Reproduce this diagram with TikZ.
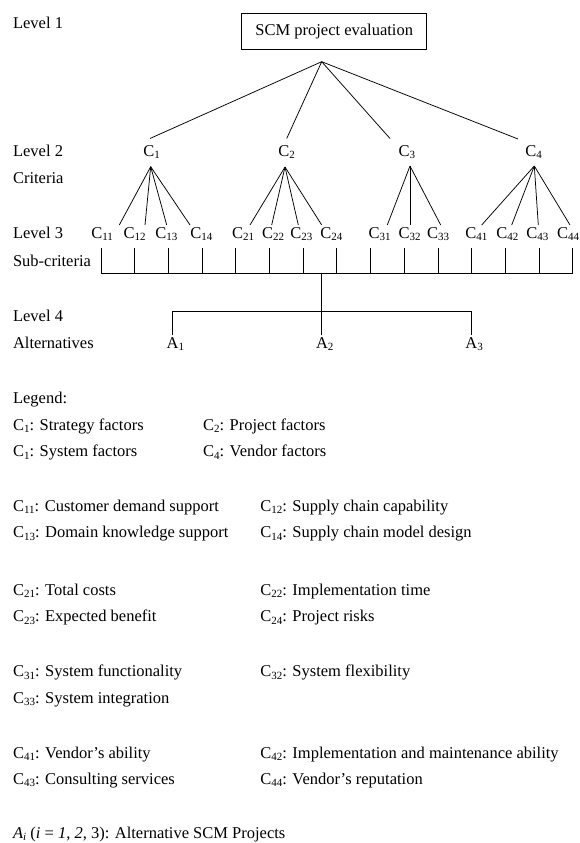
\documentclass[tikz,border=0pt]{standalone}
\usepackage{fontspec}
\setmainfont{Liberation Serif}
\newcommand\sbs[1]{\raisebox{-2.6pt}{\fontsize{11}{11}\selectfont #1}}
\begin{document}
\begin{tikzpicture}[x=1pt,y=-1pt,line width=0.75pt,
  every node/.style={font=\fontsize{16.5}{19}\selectfont,inner sep=0pt},
  lbl/.style={anchor=base west},
  rootbox/.style={draw,minimum width=185pt,minimum height=36pt},
  alt/.style={anchor=base west,inner xsep=0pt,inner ysep=2pt},
  conn/.style={line width=0.75pt}]
\useasboundingbox (0,0) rectangle (579,843);
% left column labels
\node[lbl] (lv1) at (12.7,28.5) {Level 1};
\node[lbl] (lv2) at (12.7,156) {Level 2};
\node[lbl] (crit) at (12.7,183) {Criteria};
\node[lbl] (lv3) at (12.7,238) {Level 3};
\node[lbl] (subc) at (12.7,266) {Sub-criteria};
\node[lbl] (lv4) at (12.7,321.7) {Level 4};
\node[lbl] (alts) at (12.7,348.3) {Alternatives};
% level 1
\node[rootbox] (root) at (334.2,31.3) {SCM project evaluation};
\coordinate (apex) at (321.7,61.7);
% level 2
\node[lbl] (c1) at (143,156) {C\sbs{1}};
\node[lbl] (c2) at (278,156) {C\sbs{2}};
\node[lbl] (c3) at (398.3,156) {C\sbs{3}};
\node[lbl] (c4) at (525,156) {C\sbs{4}};
\coordinate (e1) at (150,138.5);
\coordinate (e2) at (286.7,138.5);
\coordinate (e3) at (390,138.5);
\coordinate (e4) at (518,139);
\foreach \e in {e1,e2,e3,e4} \draw[conn] (apex) -- (\e);
% level 3
\foreach \n/\x/\t in {c11/91/11,c12/123.3/12,c13/155/13,c14/190/14,
  c21/231.7/21,c22/261.7/22,c23/290/23,c24/320/24,
  c31/368.3/31,c32/398.3/32,c33/426.7/33,
  c41/465/41,c42/496/42,c43/526/43,c44/556.7/44}
  \node[lbl] (\n) at (\x,238) {C\sbs{\t}};
% fans
\coordinate (f1) at (150.7,166.7);
\coordinate (f2) at (285,167);
\coordinate (f3) at (410,166);
\coordinate (f4) at (534.3,166);
\foreach \f/\x in {f1/119.3,f1/145,f1/166.7,f1/190,
  f2/250,f2/271.7,f2/298.3,f2/321.7,
  f3/387.3,f3/410,f3/440.7,
  f4/481.7,f4/511.7,f4/538.3,f4/570}
  \draw[conn] (\f) -- (\x,225);
% comb
\foreach \k in {0,...,14} {
  \coordinate (t\k) at ({101+33.69*\k},248.3);
  \coordinate (b\k) at ({101+33.69*\k},273);
  \draw[conn] (t\k) -- (b\k);
}
\draw[conn] (b0) -- (b14);
% level 4
\node[alt] (a1) at (166.3,348.3) {A\sbs{1}};
\node[alt] (a2) at (315.7,348.3) {A\sbs{2}};
\node[alt] (a3) at (465,348.3) {A\sbs{3}};
\coordinate (mid) at (321.7,273);
\coordinate (br1) at (172.3,311.7);
\coordinate (br3) at (471,311.7);
\draw[conn] (mid) -- (mid |- a2.north);
\draw[conn] (br1 |- a1.north) -- (br1) -- (br3) -- (br3 |- a3.north);
% legend
\node[lbl] (leg) at (12.7,403.5) {Legend:};
\node[lbl] (l1) at (12.7,430) {C\sbs{1}: Strategy factors};
\node[lbl] (l2) at (202.7,430) {C\sbs{2}: Project factors};
\node[lbl] (l3) at (12.7,456.7) {C\sbs{1}: System factors};
\node[lbl] (l4) at (202.7,456.7) {C\sbs{4}: Vendor factors};
\node[lbl] (l11) at (12.7,511) {C\sbs{11}: Customer demand support};
\node[lbl] (l12) at (260,511) {C\sbs{12}: Supply chain capability};
\node[lbl] (l13) at (12.7,537.5) {C\sbs{13}: Domain knowledge support};
\node[lbl] (l14) at (260,537.5) {C\sbs{14}: Supply chain model design};
\node[lbl] (l21) at (12.7,595) {C\sbs{21}: Total costs};
\node[lbl] (l22) at (260,595) {C\sbs{22}: Implementation time};
\node[lbl] (l23) at (12.7,621.5) {C\sbs{23}: Expected benefit};
\node[lbl] (l24) at (260,621.5) {C\sbs{24}: Project risks};
\node[lbl] (l31) at (12.7,676.7) {C\sbs{31}: System functionality};
\node[lbl] (l32) at (260,676.7) {C\sbs{32}: System flexibility};
\node[lbl] (l33) at (12.7,703) {C\sbs{33}: System integration};
\node[lbl] (l41) at (12.7,758.3) {C\sbs{41}: Vendor's ability};
\node[lbl] (l42) at (260,758.3) {C\sbs{42}: Implementation and maintenance ability};
\node[lbl] (l43) at (12.7,784.3) {C\sbs{43}: Consulting services};
\node[lbl] (l44) at (260,784.3) {C\sbs{44}: Vendor's reputation};
\node[lbl] (lai) at (12.7,838.3) {\textit{A}\sbs{\textit{i}} (\textit{i} = \textit{1}, \textit{2}, 3): Alternative SCM Projects};
\end{tikzpicture}
\end{document}
